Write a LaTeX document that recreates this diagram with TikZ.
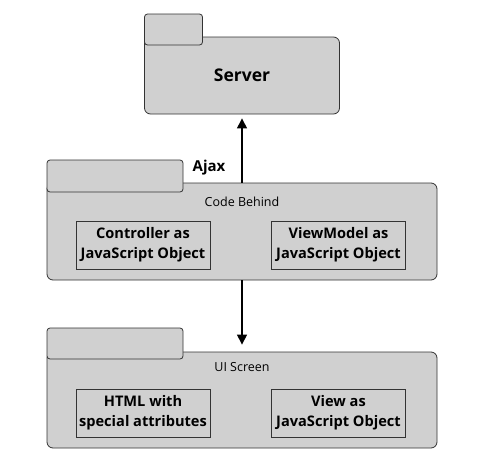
\documentclass[tikz,border=0pt]{standalone}
\usepackage{fontspec}
\setmainfont{Open Sans}
\usetikzlibrary{arrows.meta}
\definecolor{pkggray}{HTML}{D0D0D0}
\definecolor{edgegray}{HTML}{333333}
\begin{document}
\begin{tikzpicture}[x=1pt,y=-1pt,
  pkgbody/.style={draw=edgegray, fill=pkggray, rounded corners=6pt, line width=0.8pt, inner sep=0pt},
  pkgtab/.style={draw=edgegray, fill=pkggray, rounded corners=3pt, line width=0.8pt, inner sep=0pt},
  inbox/.style={draw=edgegray, fill=pkggray, line width=0.8pt, minimum width=134pt, minimum height=48pt, inner sep=0pt, align=center, font=\fontsize{14.6}{20}\selectfont\bfseries},
  lbl/.style={font=\fontsize{12.5}{14}\selectfont, inner sep=0pt},
  arr/.style={line width=1.1pt, -{Triangle[width=10pt,length=10pt]}}]
\fill[white] (0,0) rectangle (498,469);
\useasboundingbox (0,0) rectangle (498,469);
% Server
\node[pkgbody, minimum width=195pt, minimum height=77pt, font=\fontsize{17.5}{20}\selectfont\bfseries] (server) at (242,75.5) {Server};
\node[pkgtab, minimum width=58pt, minimum height=31pt] (servertab) at (173.5,29.5) {};
% Code Behind
\node[pkgbody, minimum width=390pt, minimum height=97pt] (cb) at (242,231.5) {};
\node[pkgtab, minimum width=136pt, minimum height=32pt] (cbtab) at (115,176) {};
\node[lbl] (cblbl) at (242,202) {Code Behind};
\node[inbox] (ctrl) at (143,245) {Controller as\\JavaScript Object};
\node[inbox] (vm) at (338.5,245) {ViewModel as\\JavaScript Object};
% UI Screen
\node[pkgbody, minimum width=390pt, minimum height=96pt] (ui) at (242,400) {};
\node[pkgtab, minimum width=136pt, minimum height=31pt] (uitab) at (115,343.5) {};
\node[lbl] (uilbl) at (242,367) {UI Screen};
\node[inbox] (html) at (143,413) {HTML with\\special attributes};
\node[inbox] (view) at (338.5,413) {View as\\JavaScript Object};
% arrows
\draw[arr, shorten >=4pt] (cb.north) -- (cb.north |- server.south);
\node[font=\fontsize{15}{18}\selectfont\bfseries, inner sep=0pt] (ajax) at (209,168) {Ajax};
\draw[arr, shorten >=7pt] (cb.south) -- (ui.north);
\end{tikzpicture}
\end{document}
